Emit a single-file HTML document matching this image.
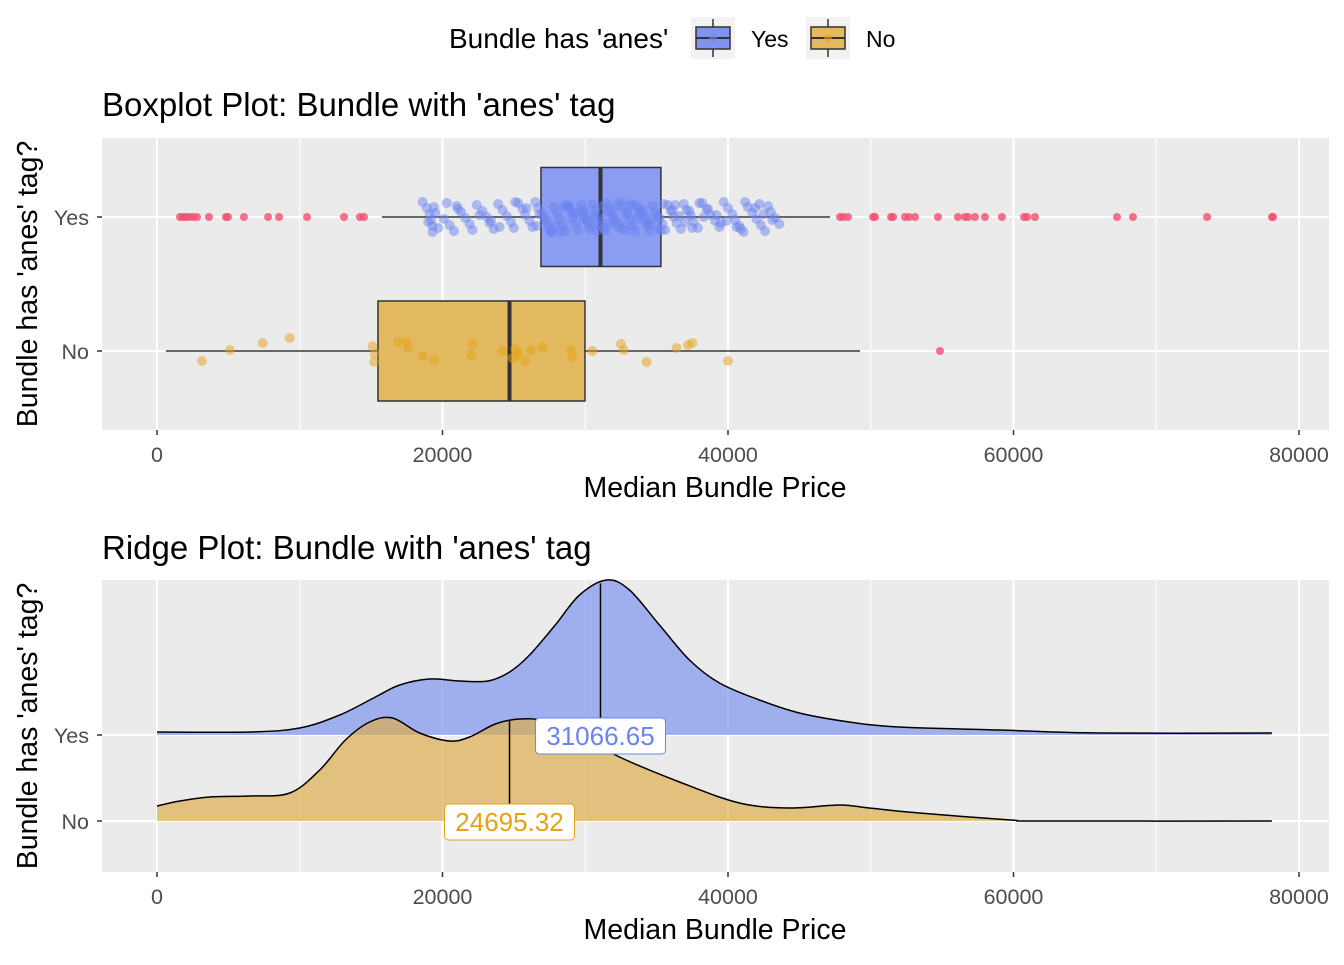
<!DOCTYPE html>
<html><head><meta charset="utf-8"><style>
body{margin:0;background:#fff;}
svg text{font-family:"Liberation Sans",Arial,sans-serif;}
</style></head><body>
<svg id="chart" width="1344" height="960" xmlns="http://www.w3.org/2000/svg">
<g id="legend">
<text x="449" y="48" font-size="28" fill="#000">Bundle has 'anes'</text>
<g>
<rect x="691" y="17" width="44" height="42" fill="#f2f2f2"/>
<line x1="713" y1="19" x2="713" y2="57" stroke="#333" stroke-width="1.5"/>
<rect x="696" y="27" width="34" height="22" fill="#7F93F2" stroke="#333" stroke-width="1.5"/>
<line x1="696" y1="38" x2="730" y2="38" stroke="#333" stroke-width="2"/>
<circle cx="713" cy="38" r="4" fill="#6B84F0" opacity="0.6"/>
<text x="751" y="47" font-size="23" fill="#000">Yes</text></g>
<g>
<rect x="806" y="17" width="44" height="42" fill="#f2f2f2"/>
<line x1="828" y1="19" x2="828" y2="57" stroke="#333" stroke-width="1.5"/>
<rect x="811" y="27" width="34" height="22" fill="#E5B95C" stroke="#333" stroke-width="1.5"/>
<line x1="811" y1="38" x2="845" y2="38" stroke="#333" stroke-width="2"/>
<circle cx="828" cy="38" r="4" fill="#E6A117" opacity="0.6"/>
<text x="866" y="47" font-size="23" fill="#000">No</text></g>
</g>
<text x="102" y="116" font-size="33" fill="#000">Boxplot Plot: Bundle with 'anes' tag</text>
<text x="102" y="559" font-size="33" fill="#000">Ridge Plot: Bundle with 'anes' tag</text>
<g id="p1"></g>
<g id="p2"></g>
</svg>
<script>
const categories=["Yes","No"];
const xTicks=[0,20000,40000,60000,80000];
const yesBox=[15760,26900,31067,35300,47150];
const noBox=[630,15480,24695,29980,49250];
const yesOutliers=[1610,1820,2030,2240,2520,2800,3640,4830,4970,6090,7780,8550,10510,13100,14220,14500,47850,48060,48410,50160,50300,51420,51560,52400,52680,53100,54710,56110,56600,56810,57300,58000,59190,60740,60950,61500,67250,68370,73560,78110,78180];
const noOutliers=[54850];
const yesPoints=[18600,18900,19100,19200,19300,19300,19400,19500,20100,20500,20800,21000,21300,21600,21900,22100,22400,22800,23100,23300,23600,23900,24200,24500,24800,25000,25300,25600,25800,26100,26300,26500,26700,27000,27200,27400,27600,27800,28000,28200,28400,28600,28800,29000,29100,29300,29500,29700,29800,30000,30200,30300,30500,30700,30900,31100,31300,31500,31700,31900,32100,32300,32500,32700,32900,33100,33300,33500,33700,33900,34100,34300,34500,34700,34900,35200,35400,35600,35800,36000,36200,36400,36700,36900,37100,37400,37600,37900,38200,38500,38800,39100,39400,39700,40000,40300,40500,40800,41100,41400,41700,42000,42300,42600,42800,43000,43300,43600,27500,28700,29900,30600,31800,32600,33200,34000,35000,
19000,19700,20300,21100,22600,23400,24000,25100,25900,26800,27300,27900,28300,28900,29400,29900,30400,30800,31200,31600,32000,32400,32800,33400,33800,34200,34600,35100,35500,36100,36600,37000,37500,38000,38600,39200,39900,40600,41200,41900,42500,43100,26600,27700,28500,29200,30100,31000,31400,32200,33000,33600,34400,35300,36300,37300,38300,39500,40900,42200];
const noPoints=[3150,5100,7400,9300,15100,15250,15200,16900,17500,17600,18600,19400,22000,22100,24200,25200,25800,26200,27000,29000,29100,30500,32500,32700,34300,36400,37200,37500,40000,25100,25300,24900];
const noPointsDy=[10,-1,-8,-13,-5,3,11,-9,-9,-3,5,9,4,-7,0,5,10,-1,-4,-1,6,0,-7,-1,11,-3,-6,-8,10,-2,1,7];
const ridgeYesX=[0,6.5,10,12.8,15.3,17,19.1,21.2,23.2,24.7,26.1,27.9,29.6,31.5,33.1,35.2,37.3,39.4,42.2,45,48.5,52,59,66,78.1];
const ridgeYesD=[3,3,7,20,38,50,56,54,54,63,80,110,140,155,145,110,75,52,35,22,13,8,5,2,2];
const ridgeNoX=[0,1.6,3.7,6.5,9.3,11.4,13.2,14.9,16.5,18.4,20.5,21.9,23.7,25.4,27.2,29.6,32.4,36.6,40.8,44.3,47.8,49.9,53.4,59.8,61.9,78.1];
const ridgeNoD=[15,20,24,25,28,51,81,99,103,88,80,84,97,102,100,86,64,39,18,13,16,13,8,1,0,0];
const medYes=31066.65, medNo=24695.32;

const NS="http://www.w3.org/2000/svg";
const X=v=>157+v*1142/80000;
function mk(p,t,a){const e=document.createElementNS(NS,t);for(const k in a)e.setAttribute(k,a[k]);p.appendChild(e);return e;}
function panel(g,top,bot,yPos){
  const bg=mk(g,'rect',{x:102,y:top,width:1227,height:bot-top,fill:'#EBEBEB'});
  
  
  for(let i=0;i<xTicks.length-1;i++){const m=(xTicks[i]+xTicks[i+1])/2;mk(g,'line',{x1:X(m),x2:X(m),y1:top,y2:bot,stroke:'#fff','stroke-width':1});}
  xTicks.forEach(t=>{mk(g,'line',{x1:X(t),x2:X(t),y1:top,y2:bot,stroke:'#fff','stroke-width':2});
    mk(g,'line',{x1:X(t),x2:X(t),y1:bot,y2:bot+5,stroke:'#333','stroke-width':1.5});
    const tl=mk(g,'text',{x:X(t),y:bot+32,'font-size':21.5,fill:'#4D4D4D','text-anchor':'middle'});tl.textContent=t;
    
    });
  categories.forEach((c,i)=>{const y=yPos[i];mk(g,'line',{x1:102,x2:1329,y1:y,y2:y,stroke:'#fff','stroke-width':2});
    mk(g,'line',{x1:97,x2:102,y1:y,y2:y,stroke:'#333','stroke-width':1.5});
    const tl=mk(g,'text',{x:89,y:y+8,'font-size':21.5,fill:'#4D4D4D','text-anchor':'end'});tl.textContent=c;
    
    });
  const xt=mk(g,'text',{x:715,y:bot+67,'font-size':28.5,fill:'#000','text-anchor':'middle'});xt.textContent='Median Bundle Price';
  
  
  const cy=(top+bot)/2;
  const yt=mk(g,'text',{x:37,y:cy,'font-size':28.5,fill:'#000','text-anchor':'middle',transform:`rotate(-90 37 ${cy})`});yt.textContent="Bundle has 'anes' tag?";
  
  
}
const p1=document.getElementById('p1');
const yY=217,yN=351;
panel(p1,138,430,[yY,yN]);
function box(b,y,fill,h){
  mk(p1,'line',{x1:X(b[0]),x2:X(b[4]),y1:y,y2:y,stroke:'#333','stroke-width':1.5});
  const r=mk(p1,'rect',{x:X(b[1]),y:y-h,width:X(b[3])-X(b[1]),height:2*h,fill:fill,stroke:'#333','stroke-width':1.5});
  
  
  mk(p1,'line',{x1:X(b[2]),x2:X(b[2]),y1:y-h,y2:y+h,stroke:'#333','stroke-width':4});
}
box(yesBox,yY,'#8A9DF3',49.5);
box(noBox,yN,'#E3BA5F',50);
yesOutliers.forEach(v=>{const c=mk(p1,'circle',{cx:X(v),cy:yY,r:4,fill:'#F54D6F',opacity:0.8});
  
  });
noOutliers.forEach(v=>{const c=mk(p1,'circle',{cx:X(v),cy:yN,r:4,fill:'#F54D6F',opacity:0.8});
  
  });
yesPoints.forEach((v,i)=>{const dy=((i*37)%31)-15;const c=mk(p1,'circle',{cx:X(v),cy:yY+dy,r:5,fill:'#6B84F0',opacity:0.5});
  
  });
noPoints.forEach((v,i)=>{const c=mk(p1,'circle',{cx:X(v),cy:yN+noPointsDy[i],r:5,fill:'#E6A117',opacity:0.5});
  
  });
const p2=document.getElementById('p2');
const rY=735,rN=821;
panel(p2,580,872,[rY,rN]);
function smooth(pts){let d='M'+pts[0][0]+','+pts[0][1];
  for(let i=0;i<pts.length-1;i++){const p0=pts[i-1]||pts[i],p1=pts[i],p2=pts[i+1],p3=pts[i+2]||p2;
    d+=`C${p1[0]+(p2[0]-p0[0])/6},${p1[1]+(p2[1]-p0[1])/6} ${p2[0]-(p3[0]-p1[0])/6},${p2[1]-(p3[1]-p1[1])/6} ${p2[0]},${p2[1]}`;}
  return d;}
function ridge(xs,ds,base,fill,name){
  const pts=xs.map((x,i)=>[X(x*1000),base-ds[i]]);
  const l=smooth(pts);
  const a=mk(p2,'path',{d:l+`L${pts[pts.length-1][0]},${base}L${pts[0][0]},${base}Z`,fill:fill,opacity:0.7});
  
  
  mk(p2,'path',{d:l,fill:'none',stroke:'#000','stroke-width':1.5});
}
function interp(xs,ds,v){v/=1000;for(let i=0;i<xs.length-1;i++)if(v>=xs[i]&&v<=xs[i+1])return ds[i]+(ds[i+1]-ds[i])*(v-xs[i])/(xs[i+1]-xs[i]);return 0;}
ridge(ridgeYesX,ridgeYesD,rY,'#7F96EE','ridge-yes');
mk(p2,'line',{x1:X(medYes),x2:X(medYes),y1:rY,y2:rY-interp(ridgeYesX,ridgeYesD,medYes),stroke:'#000','stroke-width':1.5});
ridge(ridgeNoX,ridgeNoD,rN,'#DDAF4E','ridge-no');
mk(p2,'line',{x1:X(medNo),x2:X(medNo),y1:rN,y2:rN-interp(ridgeNoX,ridgeNoD,medNo),stroke:'#000','stroke-width':1.5});
function label(v,y,col,name){
  const g=mk(p2,'g',{});
  
  
  mk(g,'rect',{x:X(v)-65,y:y-18,width:130,height:36,rx:4,fill:'#fff',stroke:col,'stroke-width':1});
  const t=mk(g,'text',{x:X(v),y:y+9,'font-size':26,fill:col,'text-anchor':'middle'});t.textContent=v.toFixed(2);
}
label(medYes,736,'#6B84F0','median-label-yes');
label(medNo,822,'#E6A117','median-label-no');
</script>
</body></html>
